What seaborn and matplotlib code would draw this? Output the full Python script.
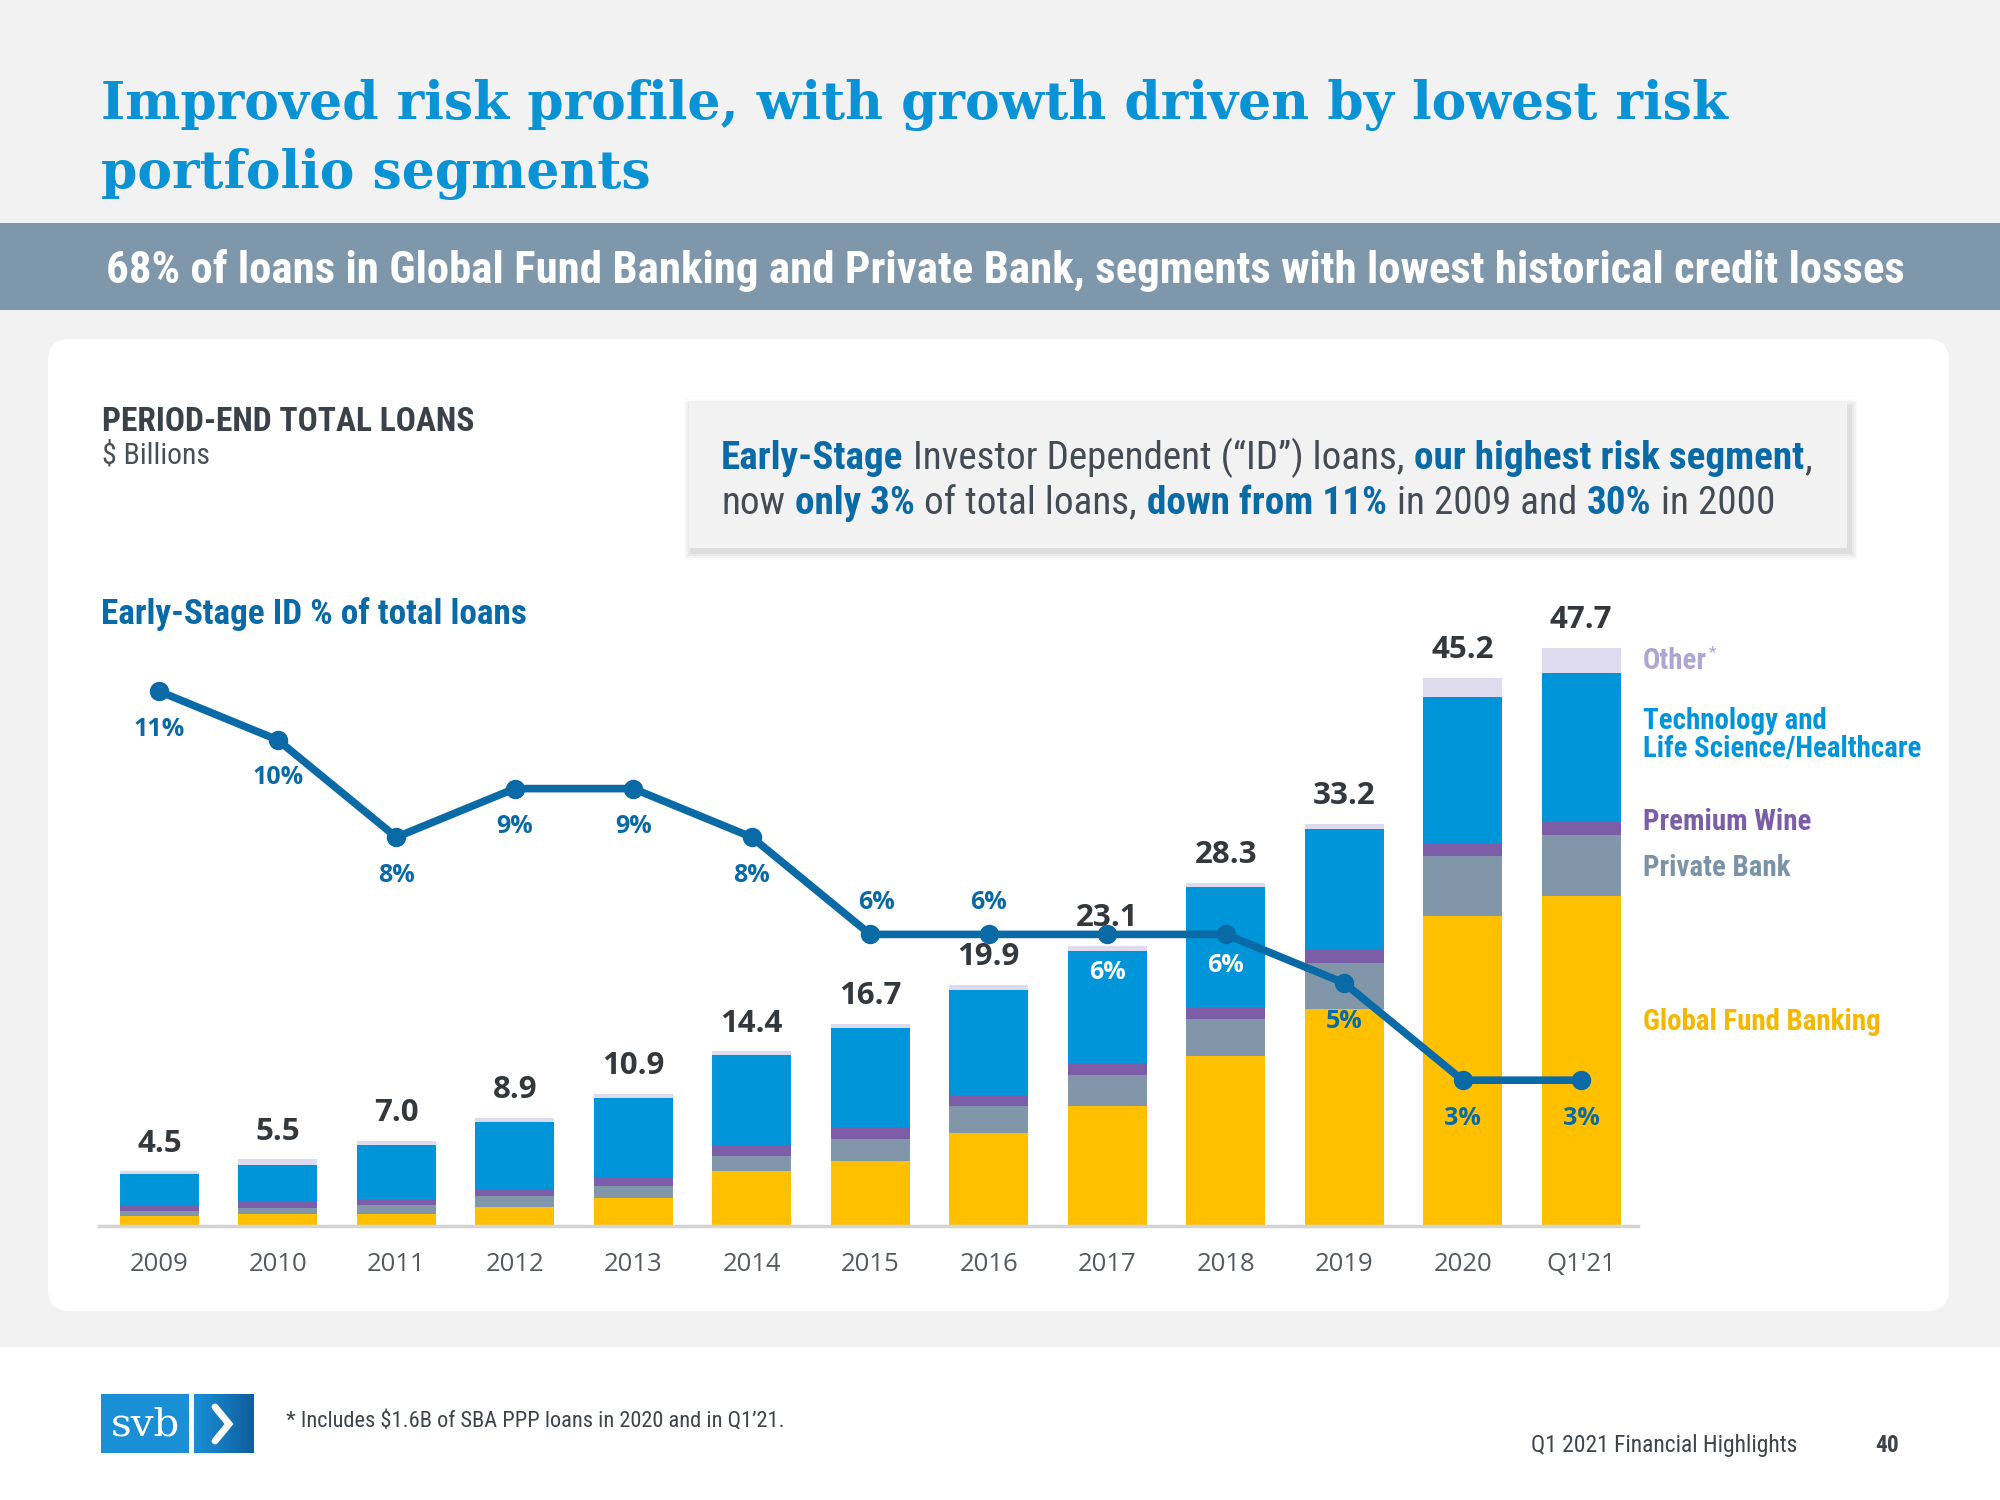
import matplotlib
matplotlib.use("Agg")
import matplotlib.pyplot as plt
import seaborn as sns
import numpy as np
import pandas as pd
from matplotlib import font_manager
from matplotlib.patches import FancyBboxPatch, Rectangle
from matplotlib.colors import LinearSegmentedColormap

# ---------------- data ----------------
categories = ["2009", "2010", "2011", "2012", "2013", "2014", "2015",
              "2016", "2017", "2018", "2019", "2020", "Q1'21"]
global_fund_banking = [0.8, 0.95, 1.0, 1.6, 2.3, 4.5, 5.4, 7.7, 9.9, 14.0, 17.9, 25.6, 27.2]
private_bank = [0.45, 0.5, 0.7, 0.85, 1.0, 1.3, 1.8, 2.2, 2.6, 3.1, 3.8, 4.9, 5.1]
premium_wine = [0.45, 0.5, 0.45, 0.55, 0.65, 0.8, 0.85, 0.9, 0.9, 0.95, 1.05, 1.05, 1.05]
tech_life_science = [2.55, 3.1, 4.5, 5.6, 6.6, 7.5, 8.3, 8.7, 9.3, 9.9, 10.0, 12.1, 12.3]
other = [0.25, 0.45, 0.35, 0.3, 0.35, 0.3, 0.35, 0.4, 0.4, 0.35, 0.45, 1.55, 2.05]
total_labels = [4.5, 5.5, 7.0, 8.9, 10.9, 14.4, 16.7, 19.9, 23.1, 28.3, 33.2, 45.2, 47.7]
early_stage_pct = [11, 10, 8, 9, 9, 8, 6, 6, 6, 6, 5, 3, 3]

# ---------------- style ----------------
C_GFB = "#FFC000"
C_PB = "#8196A9"
C_WINE = "#7B5EA7"
C_TECH = "#0094D9"
C_OTHER = "#DEDBEE"
C_LINE = "#0A6AA6"
C_TITLE = "#0992D4"
C_TEXT = "#3A4149"

sns.set_theme(style="white")
avail = {f.name for f in font_manager.fontManager.ttflist}
def pick(cands, default):
    for c in cands:
        if c in avail:
            return c
    return default
COND = pick(["Roboto Condensed", "Liberation Sans Narrow", "Open Sans Condensed"], "Roboto")
NUM = pick(["Open Sans", "Roboto"], "DejaVu Sans")
SERIF = pick(["DejaVu Serif Condensed"], "DejaVu Serif")
plt.rcParams["font.family"] = ["DejaVu Sans"]

W, H = 2000, 1500
fig = plt.figure(figsize=(20, 15), dpi=100)
fig.patch.set_facecolor("#F2F2F2")
bg = fig.add_axes([0, 0, 1, 1])
bg.set_zorder(0)
bg.axis("off")
renderer = fig.canvas.get_renderer()

def fit(t, target):
    w = t.get_window_extent(renderer).width
    t.set_fontsize(t.get_fontsize() * target / w)
    return t.get_fontsize()

def draw_runs(x0, y, runs, fs, family):
    x = x0
    arts = []
    sp = 0.25 * fs * 100 / 72
    for s, bold, color in runs:
        if s.startswith(" "):
            x += sp
        t = bg.text(x, y, s.strip(), fontsize=fs, fontweight="bold" if bold else "normal",
                    color=color, family=family, ha="left", va="baseline")
        x += t.get_window_extent(renderer).width
        if s.endswith(" "):
            x += sp
        arts.append(t)
    return arts, x - x0

# background blocks
bg.add_patch(Rectangle((0, 223), W, 87, fc="#7F97AB", ec="none"))
bg.add_patch(FancyBboxPatch((48, 339), 1901, 972, boxstyle="round,pad=0,rounding_size=22",
                            fc="white", ec="none"))
bg.add_patch(Rectangle((0, 1347), W, 153, fc="white", ec="none"))
# callout box with soft shadow
for k, a in zip([8, 6, 4, 2], [0.04, 0.06, 0.08, 0.10]):
    bg.add_patch(Rectangle((689 - k + 3, 403 - k + 4), 1158 + 2 * k, 145 + 2 * k,
                           fc="#808080", alpha=a, ec="none"))
bg.add_patch(Rectangle((689, 403), 1158, 145, fc="#F2F2F2", ec="none"))

# title
t1 = bg.text(101, 119, "Improved risk profile, with growth driven by lowest risk",
             family=SERIF, fontweight="bold", color=C_TITLE, fontsize=44,
             ha="left", va="baseline")
fs_title = fit(t1, 1627)
bg.text(101, 188, "portfolio segments", family=SERIF, fontweight="bold",
        color=C_TITLE, fontsize=fs_title, ha="left", va="baseline")

# banner
tb = bg.text(106, 283, "68% of loans in Global Fund Banking and Private Bank, segments with lowest historical credit losses",
             family=COND, fontweight="bold", color="white", fontsize=28, ha="left", va="baseline")
fit(tb, 1798)

# section heading
th = bg.text(102, 431, "PERIOD-END TOTAL LOANS", family=COND, fontweight="bold", color=C_TEXT,
             fontsize=20, ha="left", va="baseline")
fit(th, 374)
ts = bg.text(102, 464, "\\$ Billions", family=COND, color="#4A4F55", fontsize=18,
             ha="left", va="baseline")
fit(ts, 108)
te = bg.text(101, 624, "Early-Stage ID % of total loans", family=COND, fontweight="bold",
             color=C_LINE, fontsize=22, ha="left", va="baseline")
fit(te, 426)

# callout text
GR = "#444B53"
runs1 = [("Early-Stage", True, C_LINE), (" Investor Dependent (“ID”) loans, ", False, GR),
         ("our highest risk segment", True, C_LINE), (",", False, GR)]
runs2 = [("now ", False, GR), ("only 3%", True, C_LINE), (" of total loans, ", False, GR),
         ("down from 11%", True, C_LINE), (" in 2009 and ", False, GR), ("30%", True, C_LINE),
         (" in 2000", False, GR)]
arts, w1 = draw_runs(721, 469, runs1, 26, COND)
fs_c = 26 * 1093 / w1
for a in arts:
    a.remove()
draw_runs(721, 469, runs1, fs_c, COND)
draw_runs(721, 514, runs2, fs_c, COND)

# legend-like labels on the right
tg = bg.text(1643, 1030, "Global Fund Banking", family=COND, fontweight="bold", color="#F5B800",
             fontsize=20, ha="left", va="baseline")
fs_leg = fit(tg, 238)
to = bg.text(1643, 669, "Other", family=COND, fontweight="bold", color="#ADA6D0",
             fontsize=fs_leg, ha="left", va="baseline")
ow = to.get_window_extent(renderer).width
bg.text(1643 + ow + 2, 657, "*", family=COND, color="#ADA6D0", fontsize=fs_leg * 0.6,
        ha="left", va="baseline")
bg.text(1643, 729, "Technology and", family=COND, fontweight="bold", color=C_TECH,
        fontsize=fs_leg, ha="left", va="baseline")
bg.text(1643, 757, "Life Science/Healthcare", family=COND, fontweight="bold", color=C_TECH,
        fontsize=fs_leg, ha="left", va="baseline")
bg.text(1643, 830, "Premium Wine", family=COND, fontweight="bold", color=C_WINE,
        fontsize=fs_leg, ha="left", va="baseline")
bg.text(1643, 876, "Private Bank", family=COND, fontweight="bold", color="#7B93A6",
        fontsize=fs_leg, ha="left", va="baseline")

# footer
bg.add_patch(Rectangle((101, 1394), 88, 59, fc="#1A8FD6", ec="none"))
grad = np.linspace(0, 1, 50).reshape(1, -1)
cmap = LinearSegmentedColormap.from_list("g", ["#1A8FD6", "#0E5F9E"])
bg.imshow(grad, extent=(194, 254, 1453, 1394), cmap=cmap, aspect="auto", zorder=2)
bg.text(145, 1425, "svb", color="white", fontsize=29, family="DejaVu Serif",
        ha="center", va="center", zorder=3)
bg.plot([215, 229, 215], [1407, 1424, 1441], color="white", lw=5,
        solid_joinstyle="miter", zorder=3)
tf = bg.text(286, 1427, "* Includes \\$1.6B of SBA PPP loans in 2020 and in Q1’21.", family=COND,
             color="#3E444A", fontsize=15, ha="left", va="baseline")
fit(tf, 499)
tr = bg.text(1531, 1452, "Q1 2021 Financial Highlights", family=COND, color="#3E444A",
             fontsize=15, ha="left", va="baseline")
fit(tr, 267)
bg.text(1899, 1452, "40", family=COND, fontweight="bold", color="#3E444A",
        fontsize=tr.get_fontsize(), ha="right", va="baseline")

bg.set_xlim(0, W)
bg.set_ylim(H, 0)

# ---------------- chart ----------------
PX_PER_B = 12.12
YMAX = 50
ax = fig.add_axes([99.5 / W, 1 - 1226 / H, (1638 - 99.5) / W, YMAX * PX_PER_B / H])
ax.set_zorder(1)
ax.patch.set_visible(False)

stack = np.array([global_fund_banking, private_bank, premium_wine, tech_life_science, other])
cum = np.cumsum(stack, axis=0)
layer_colors = [C_GFB, C_PB, C_WINE, C_TECH, C_OTHER]
for lvl in reversed(range(len(layer_colors))):
    df = pd.DataFrame({"period": categories, "value": cum[lvl]})
    sns.barplot(data=df, x="period", y="value", order=categories, color=layer_colors[lvl],
                saturation=1, width=0.667, linewidth=0, errorbar=None, ax=ax)

ax.set_xlim(-0.505, 12.48)
ax.set_ylim(0, YMAX)
ax.set_yticks([])
ax.set_xlabel("")
ax.set_ylabel("")
ax.set_xticks(range(len(categories)))
ax.set_xticklabels(categories, fontsize=18.5, color="#555A60", family=NUM)
ax.tick_params(axis="x", length=0, pad=19)
for s in ["top", "left", "right"]:
    ax.spines[s].set_visible(False)
ax.spines["bottom"].set_color("#D4D4D4")
ax.spines["bottom"].set_linewidth(2.5)

ax2 = ax.twinx()
ax2.set_zorder(2)
ax2.patch.set_visible(False)
PX_PER_PCT = 48.6
ax2.set_ylim(0, YMAX * PX_PER_B / PX_PER_PCT)
sns.lineplot(x=np.arange(len(categories)), y=early_stage_pct, ax=ax2, color=C_LINE,
             linewidth=5.5, marker="o", markersize=14, markeredgewidth=0)
ax2.set_xlim(-0.505, 12.48)
ax2.set_yticks([])
ax2.set_ylabel("")
for s in ax2.spines.values():
    s.set_visible(False)

# percentage labels
offsets = [38, 38, 38, 38, 38, 38, -32, -32, 38, 31, 38, 38, 38]
dxs = [0, 0, 0, 0, 0, 0, 6, 0, 0, 0, 0, 0, 0]
for i, p in enumerate(early_stage_pct):
    col = "white" if categories[i] in ("2017", "2018") else C_LINE
    ax2.annotate(f"{p}%", xy=(i, p), xytext=(dxs[i] * 0.72, -offsets[i] * 0.72),
                 textcoords="offset points", ha="center", va="center",
                 fontsize=18, fontweight="bold", color=col, family=NUM)

# totals
for i, t in enumerate(total_labels):
    ax2.annotate(f"{t:.1f}", xy=(i, t), xycoords=ax.transData, xytext=(0, 20),
                 textcoords="offset points", ha="center", va="center",
                 fontsize=22.5, fontweight="bold", color="#33383D", family=NUM)

fig.savefig("out.png", dpi=100)
